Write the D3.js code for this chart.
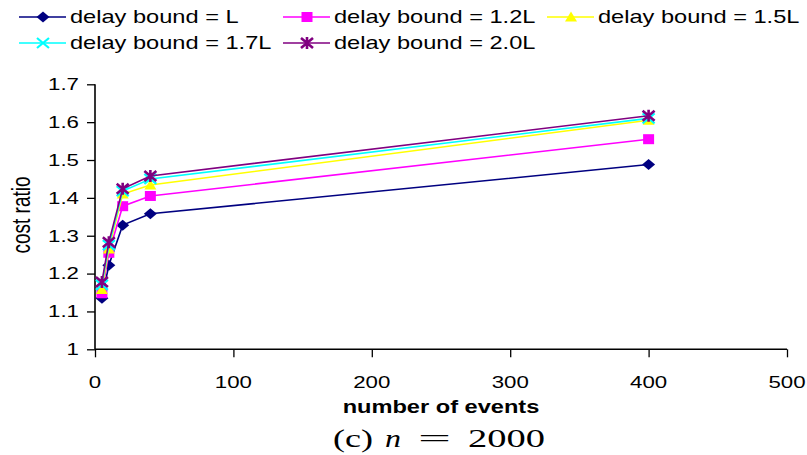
<!DOCTYPE html>
<html>
<head>
<meta charset="utf-8">
<script src="https://cdnjs.cloudflare.com/ajax/libs/d3/7.8.5/d3.min.js"></script>
<style>
  body { margin: 0; background: #fff; }
  svg { display: block; }
</style>
</head>
<body>
<div class="c_chart"></div>
<script>
/* data */
const events = [5, 10, 20, 40, 400];
const boundL   = [1.135, 1.222, 1.328, 1.358, 1.488];
const bound12L = [1.148, 1.255, 1.378, 1.405, 1.555];
const bound15L = [1.158, 1.265, 1.410, 1.434, 1.605];
const bound17L = [1.170, 1.275, 1.418, 1.450, 1.610];
const bound20L = [1.178, 1.283, 1.424, 1.458, 1.617];
const seriesNames = ["delay bound = L", "delay bound = 1.2L", "delay bound = 1.5L",
  "delay bound = 1.7L", "delay bound = 2.0L"];
const xTicks = [0, 100, 200, 300, 400, 500];
const yTicks = [1, 1.1, 1.2, 1.3, 1.4, 1.5, 1.6, 1.7];

const width = 807, height = 455;
const stretch = 1.35; // the picture is wider than it is tall, text too

const svg = d3.select(".c_chart").append("svg")
  .attr("width", width).attr("height", height);

const x = d3.scaleLinear().domain([0, 500]).range([95, 787]);
const y = d3.scaleLinear().domain([1, 1.7]).range([349.3, 84.3]);

const series = [
  {name: seriesNames[0], values: boundL,   color: "#000080", marker: "diamond"},
  {name: seriesNames[1], values: bound12L, color: "#ff00ff", marker: "square"},
  {name: seriesNames[2], values: bound15L, color: "#ffff00", marker: "triangle"},
  {name: seriesNames[3], values: bound17L, color: "#00ffff", marker: "cross"},
  {name: seriesNames[4], values: bound20L, color: "#800080", marker: "star"}
];

function txt(g, px, py, s, size, anchor) {
  return g.append("text")
    .attr("transform", `translate(${px},${py}) scale(${stretch},1)`)
    .attr("text-anchor", anchor || "start")
    .attr("dy", "0.35em")
    .attr("font-family", "Liberation Sans, Arial, sans-serif")
    .attr("font-size", size)
    .text(s);
}

function marker(g, type, cx, cy, color) {
  if (type === "diamond") {
    g.append("path").attr("d", `M${cx - 6.5},${cy}L${cx},${cy - 5.5}L${cx + 6.5},${cy}L${cx},${cy + 5.5}Z`)
      .attr("fill", color);
  } else if (type === "square") {
    g.append("rect").attr("x", cx - 5.5).attr("y", cy - 5).attr("width", 11).attr("height", 10)
      .attr("fill", color);
  } else if (type === "triangle") {
    g.append("path").attr("d", `M${cx},${cy - 5.5}L${cx + 6},${cy + 4.5}L${cx - 6},${cy + 4.5}Z`)
      .attr("fill", color);
  } else if (type === "cross") {
    g.append("path").attr("d", `M${cx - 6},${cy - 5}L${cx + 6},${cy + 5}M${cx - 6},${cy + 5}L${cx + 6},${cy - 5}`)
      .attr("stroke", color).attr("stroke-width", 2.2);
  } else {
    g.append("path").attr("d", `M${cx - 6},${cy - 5}L${cx + 6},${cy + 5}M${cx - 6},${cy + 5}L${cx + 6},${cy - 5}M${cx},${cy - 6}L${cx},${cy + 6}`)
      .attr("stroke", color).attr("stroke-width", 2.6);
  }
}

/* axes */
const xAxis = svg.append("g").attr("transform", `translate(0,${y(1)})`)
  .call(d3.axisBottom(x).tickValues(xTicks).tickSize(8).tickFormat(""));
const yAxis = svg.append("g").attr("transform", `translate(${x(0)},0)`)
  .call(d3.axisLeft(y).tickValues(yTicks).tickSize(8).tickFormat(""));
svg.selectAll(".domain").attr("stroke", "#000").attr("stroke-width", 1.6);
svg.selectAll(".tick line").attr("stroke", "#000").attr("stroke-width", 1.3);
xAxis.select(".domain").attr("d", `M${x(0)},0H${x(500)}`);
yAxis.select(".domain").attr("d", `M0,${y(1)}V${y(1.7)}`);

xTicks.forEach(t => txt(svg, x(t), 382, String(t), 16.5, "middle"));
yTicks.forEach(t => txt(svg, 79, y(t), t === 1 ? "1" : t.toFixed(1), 16.5, "end"));

/* axis titles */
txt(svg, 441, 407, "number of events", 17.5, "middle").attr("font-weight", "bold");
svg.append("text")
  .attr("transform", `translate(21,215) scale(${stretch},1) rotate(-90)`)
  .attr("text-anchor", "middle").attr("dy", "0.35em")
  .attr("font-family", "Liberation Sans, Arial, sans-serif")
  .attr("font-size", 19)
  .text("cost ratio");

/* lines and markers */
const line = d3.line().x((d, i) => x(events[i])).y(d => y(d));
series.forEach(s => {
  const g = svg.append("g");
  g.append("path").attr("d", line(s.values))
    .attr("fill", "none").attr("stroke", s.color).attr("stroke-width", 1.6);
  s.values.forEach((v, i) => marker(g, s.marker, x(events[i]), y(v), s.color));
});

/* legend */
const legendPos = [[19, 17], [283, 17], [547, 17], [19, 43], [283, 43]];
series.forEach((s, i) => {
  const [lx, ly] = legendPos[i];
  const g = svg.append("g");
  g.append("line").attr("x1", lx).attr("x2", lx + 47).attr("y1", ly).attr("y2", ly)
    .attr("stroke", s.color).attr("stroke-width", 1.6);
  marker(g, s.marker, lx + 24, ly, s.color);
  txt(g, lx + 51, ly, s.name, 17.5, "start");
});

/* caption, pieces stretched to the widths seen in the picture */
const cap = svg.append("g").attr("font-family", "Liberation Serif, Times New Roman, serif");
[["(c)", 333, 40, "normal"], ["n", 385, 16, "italic"], ["=", 418, 33, "normal"], ["2000", 468, 77, "normal"]]
  .forEach(([s, cx, w, st]) => {
    cap.append("text")
      .attr("x", cx).attr("y", 438)
      .attr("dy", "0.35em").attr("font-size", 25).attr("font-style", st)
      .attr("textLength", w).attr("lengthAdjust", "spacingAndGlyphs")
      .text(s);
  });
</script>
</body>
</html>
